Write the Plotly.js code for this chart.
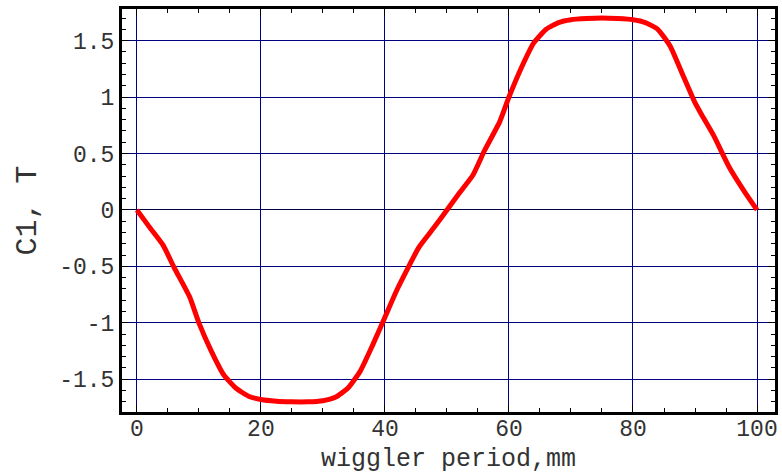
<!DOCTYPE html>
<html><head><meta charset="utf-8">
<script src="https://cdn.plot.ly/plotly-3.0.1.min.js"></script>
<style>html,body{margin:0;padding:0;background:#fff}</style>
</head><body><div id="chart" style="width:782px;height:474px"></div>
<script>
const periodMM = [0, 2, 4.2, 6, 8.5, 10, 12, 14, 16, 18, 20, 22.5, 25, 27.5, 30, 32, 34, 36, 38, 40, 42, 45.5, 48, 50, 52, 54.2, 56, 58.5, 60, 62, 64, 66, 68, 70, 72.5, 75, 77.5, 80, 82, 84, 86, 88, 90, 91, 93, 95.5, 98, 100];
const c1Tesla = [0, -0.15, -0.31, -0.51, -0.77, -1.0, -1.25, -1.46, -1.58, -1.65, -1.68, -1.695, -1.70, -1.70, -1.69, -1.66, -1.58, -1.43, -1.20, -0.95, -0.70, -0.33, -0.15, 0.0, 0.15, 0.31, 0.52, 0.78, 1.0, 1.26, 1.48, 1.60, 1.66, 1.685, 1.695, 1.70, 1.695, 1.685, 1.66, 1.60, 1.45, 1.20, 0.95, 0.85, 0.66, 0.38, 0.16, 0];
const xTicks = [0, 20, 40, 60, 80, 100];
const yTicks = [-1.5, -1, -0.5, 0, 0.5, 1, 1.5];
const yTickText = ['-1.5', '-1', '-0.5', '0', '0.5', '1', '1.5'];

const fam = 'Liberation Mono, Courier New, monospace';
const tickFont = {family: fam, color: '#333', size: 23};
Plotly.newPlot('chart', [{
  x: periodMM, y: c1Tesla, type: 'scatter', mode: 'lines',
  line: {color: '#ff0000', width: 5, shape: 'spline', smoothing: 0.5},
  hoverinfo: 'skip'
}], {
  width: 782, height: 474,
  margin: {l: 122, r: 7, t: 9, b: 62},
  paper_bgcolor: '#fff', plot_bgcolor: '#fff',
  showlegend: false,
  font: tickFont,
  xaxis: {
    range: [-2.4, 102.9],
    tickvals: xTicks, ticktext: xTicks.map(String),
    showgrid: true, gridcolor: '#000080', gridwidth: 1,
    zeroline: false,
    showline: true, linecolor: '#000', linewidth: 3, mirror: 'allticks',
    ticks: 'inside', ticklen: 7, tickcolor: '#000', tickwidth: 1,
    ticklabelstandoff: -7,
    minor: {dtick: 5, tick0: 0, ticks: 'inside', ticklen: 4, tickcolor: '#000', showgrid: false},
    tickfont: tickFont,
    title: {text: 'wiggler period,mm', font: {family: fam, color: '#333', size: 25}, standoff: 8}
  },
  yaxis: {
    range: [-1.79, 1.78],
    tickvals: yTicks, ticktext: yTickText,
    showgrid: true, gridcolor: '#000080', gridwidth: 1,
    zeroline: true, zerolinecolor: '#000040', zerolinewidth: 1,
    showline: true, linecolor: '#000', linewidth: 3, mirror: 'allticks',
    ticks: 'inside', ticklen: 7, tickcolor: '#000', tickwidth: 1,
    minor: {dtick: 0.1, tick0: 0, ticks: 'inside', ticklen: 4, tickcolor: '#000', showgrid: false},
    tickfont: tickFont,
    title: {text: 'C1, T', font: {family: fam, color: '#333', size: 30}, standoff: 14}
  }
}, {staticPlot: true});
</script></body></html>
